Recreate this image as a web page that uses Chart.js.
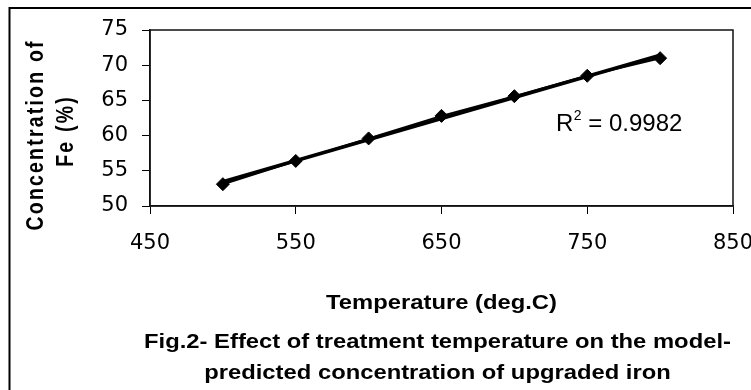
<!DOCTYPE html>
<html>
<head>
<meta charset="utf-8">
<script src="https://cdn.jsdelivr.net/npm/chart.js@4.4.1/dist/chart.umd.min.js"></script>
<style>
  html, body { margin: 0; padding: 0; background: #fff; }
  #wrap { width: 751px; height: 390px; position: relative; }
</style>
</head>
<body>
<div id="wrap"><canvas id="c"></canvas></div>
<script>
// ---- data ----
const temperatures = [500, 550, 600, 650, 700, 750, 800];
const feConcentration = [53.1, 56.4, 59.6, 62.8, 65.6, 68.5, 71.0];
const xTickValues = [450, 550, 650, 750, 850];
const yTickValues = [50, 55, 60, 65, 70, 75];
const rSquaredLabel = '0.9982';
const xTitle = 'Temperature (deg.C)';
const yTitleLines = ['Concentration of', 'Fe (%)'];
const captionLines = [
  'Fig.2- Effect of treatment temperature on the model-',
  'predicted concentration of upgraded iron'
];

// ---- linear trendline (least squares over the data) ----
const n = temperatures.length;
const mx = temperatures.reduce((a, b) => a + b, 0) / n;
const my = feConcentration.reduce((a, b) => a + b, 0) / n;
let sxy = 0, sxx = 0;
for (let i = 0; i < n; i++) {
  sxy += (temperatures[i] - mx) * (feConcentration[i] - my);
  sxx += (temperatures[i] - mx) ** 2;
}
const slope = sxy / sxx;
const intercept = my - slope * mx;
const trendPoints = [temperatures[0], temperatures[n - 1]].map(x => ({ x, y: intercept + slope * x }));

const seriesPoints = temperatures.map((x, i) => ({ x, y: feConcentration[i] }));

const BOLD = '"Liberation Sans", Arial, Helvetica, sans-serif';
const STRETCH = 1.22;

function drawStretched(ctx, text, cx, baseline, font, sx) {
  ctx.save();
  ctx.translate(cx, baseline);
  ctx.scale(sx, 1);
  ctx.font = font;
  ctx.textAlign = 'center';
  ctx.textBaseline = 'alphabetic';
  ctx.fillText(text, 0, 0);
  ctx.restore();
}

function drawRotatedSpaced(ctx, text, baselineX, centerY, font, spacing, sy) {
  ctx.save();
  ctx.translate(baselineX, centerY);
  ctx.rotate(-Math.PI / 2);
  ctx.scale(1, sy);
  ctx.font = font;
  ctx.textAlign = 'left';
  ctx.textBaseline = 'alphabetic';
  const chars = Array.from(text);
  const widths = chars.map(ch => ctx.measureText(ch).width);
  const total = widths.reduce((a, b) => a + b, 0) + spacing * (chars.length - 1);
  let x = -total / 2;
  chars.forEach((ch, i) => {
    ctx.fillText(ch, x, 0);
    x += widths[i] + spacing;
  });
  ctx.restore();
}

const decor = {
  id: 'decor',
  beforeDraw(chart) {
    const ctx = chart.ctx;
    ctx.save();
    ctx.fillStyle = '#fff';
    ctx.fillRect(0, 0, chart.width, chart.height);
    ctx.restore();
  },
  afterDraw(chart) {
    const { ctx, chartArea: a } = chart;
    ctx.save();
    ctx.strokeStyle = '#000';
    ctx.fillStyle = '#000';
    // outer frame
    ctx.lineWidth = 2;
    ctx.strokeRect(9.5, 8, 1000, 800);
    // plot box
    ctx.lineWidth = 1.5;
    ctx.strokeStyle = '#111';
    ctx.strokeRect(a.left, a.top, a.right - a.left, a.bottom - a.top);

    // x-axis title
    const cx = (a.left + a.right) / 2;
    drawStretched(ctx, xTitle, cx, 309, 'bold 19.5px ' + BOLD, STRETCH);
    // caption
    drawStretched(ctx, captionLines[0], cx - 4, 348, 'bold 19.5px ' + BOLD, STRETCH);
    drawStretched(ctx, captionLines[1], cx - 4, 378.5, 'bold 19.5px ' + BOLD, STRETCH);

    // y-axis title (two lines, rotated)
    drawRotatedSpaced(ctx, yTitleLines[0], 43, 136, 'bold 19.5px ' + BOLD, 2.2, STRETCH);
    drawRotatedSpaced(ctx, yTitleLines[1], 73, 132, 'bold 19.5px ' + BOLD, 2.2, STRETCH);

    // R^2 label
    ctx.textAlign = 'left';
    ctx.textBaseline = 'alphabetic';
    ctx.font = '24px ' + BOLD;
    let x = 556;
    ctx.fillText('R', x, 131);
    x += ctx.measureText('R').width;
    ctx.font = '14px ' + BOLD;
    ctx.fillText('2', x + 0.5, 119.5);
    x += ctx.measureText('2').width + 0.5;
    ctx.font = '24px ' + BOLD;
    ctx.fillText(' = ' + rSquaredLabel, x, 131);
    ctx.restore();
  }
};

new Chart(document.getElementById('c'), {
  type: 'scatter',
  data: {
    datasets: [
      {
        label: 'Fe concentration',
        data: seriesPoints,
        showLine: true,
        borderColor: '#000',
        borderWidth: 2,
        backgroundColor: '#000',
        pointStyle: 'rectRot',
        pointRadius: 6.5,
        pointBorderWidth: 1,
        pointBackgroundColor: '#000',
        pointBorderColor: '#000',
        tension: 0
      },
      {
        label: 'Linear trend',
        data: trendPoints,
        showLine: true,
        borderColor: '#000',
        borderWidth: 3.5,
        pointRadius: 0,
        tension: 0
      }
    ]
  },
  options: {
    responsive: true,
    maintainAspectRatio: false,
    animation: false,
    events: [],
    layout: { padding: { left: 0, right: 18, top: 30, bottom: 0 } },
    plugins: {
      legend: { display: false },
      tooltip: { enabled: false },
      title: { display: false }
    },
    scales: {
      x: {
        type: 'linear',
        min: 450,
        max: 850,
        afterBuildTicks: s => { s.ticks = xTickValues.map(v => ({ value: v })); },
        afterFit: s => { s.height = 184; s.paddingLeft = 0; s.paddingRight = 0; },
        grid: { drawOnChartArea: false, drawTicks: true, tickLength: 8, color: '#000', lineWidth: 1 },
        border: { display: true, color: '#111', width: 1.5 },
        ticks: {
          color: '#000',
          padding: 17,
          maxRotation: 0,
          autoSkip: false,
          font: { family: '"DejaVu Sans", sans-serif', size: 21 }
        }
      },
      y: {
        type: 'linear',
        min: 50,
        max: 75,
        afterBuildTicks: s => { s.ticks = yTickValues.map(v => ({ value: v })); },
        afterFit: s => { s.width = 150; s.paddingTop = 0; s.paddingBottom = 0; },
        grid: { drawOnChartArea: false, drawTicks: true, tickLength: 8, color: '#000', lineWidth: 1 },
        border: { display: true, color: '#111', width: 1.5 },
        ticks: {
          color: '#000',
          padding: 14,
          autoSkip: false,
          font: { family: '"DejaVu Sans", sans-serif', size: 21 }
        }
      }
    }
  },
  plugins: [decor]
});
</script>
</body>
</html>
